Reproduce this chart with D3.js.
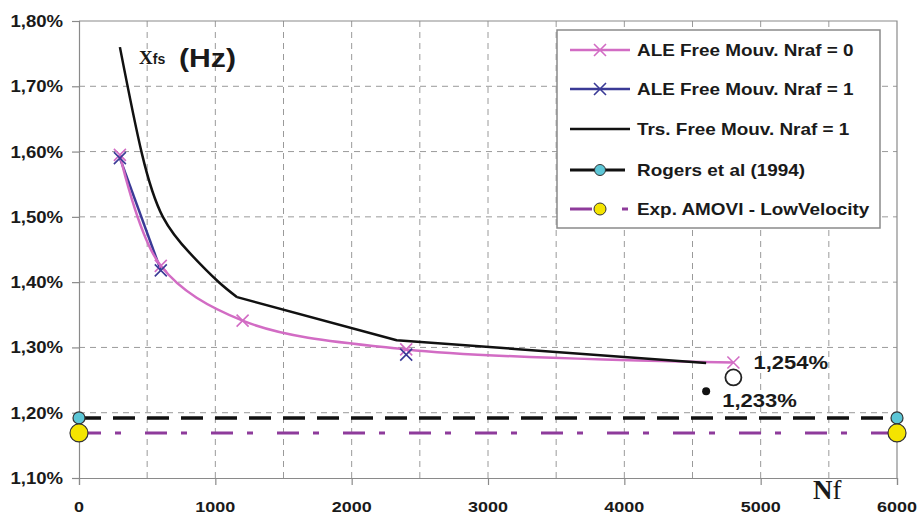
<!DOCTYPE html>
<html>
<head>
<meta charset="utf-8">
<script src="https://cdn.jsdelivr.net/npm/d3@7"></script>
<style>
  body { margin: 0; background: #fff; }
  text { font-family: "Liberation Sans", Arial, sans-serif; font-weight: bold; fill: #1a1a1a; }
</style>
</head>
<body>
<div id="chart"></div>
<script>
// values (percent)
const nAle = [300, 600, 1200, 2400, 4800];
const aleNraf0 = [1.595, 1.425, 1.341, 1.297, 1.277];
const aleNraf1 = [1.590, 1.418, null, 1.289, null];
const nTrs = [300, 460, 615, 815, 1020, 1160, 2330, 4600];
const trsNraf1 = [1.760, 1.598, 1.500, 1.444, 1.401, 1.377, 1.311, 1.276];
const rogersValue = 1.192;
const amoviValue = 1.169;
const openPoint = [4800, 1.254];
const dotPoint = [4600, 1.233];
const xTicks = [0, 1000, 2000, 3000, 4000, 5000, 6000];
const xGrid = [500, 1000, 1500, 2000, 2500, 3000, 3500, 4000, 4500, 5000, 5500];
const yTicks = [1.1, 1.2, 1.3, 1.4, 1.5, 1.6, 1.7, 1.8];
const legendLabels = ["ALE Free Mouv. Nraf = 0", "ALE Free Mouv. Nraf = 1",
    "Trs. Free Mouv. Nraf = 1", "Rogers et al (1994)", "Exp. AMOVI - LowVelocity"];

const width = 920;
const height = 515;
const margin = {top: 21, left: 79, right: 23, bottom: 37};
const stretch = 1.16;

const pink = "#d26cc4";
const navy = "#3a3a96";
const purple = "#8e3b9b";
const cyan = "#5cc6d6";
const yellow = "#f4e400";

const svg = d3.select("#chart")
    .append("svg")
    .attr("width", width)
    .attr("height", height);

const x = d3.scaleLinear()
    .domain([0, 6000])
    .range([margin.left, width - margin.right]);

const y = d3.scaleLinear()
    .domain([1.1, 1.8])
    .range([height - margin.bottom, margin.top]);

// text slightly widened like the original bitmap
function label(str, px, py, size, anchor) {
    return svg.append("text")
        .attr("transform", `translate(${px},${py}) scale(${stretch},1)`)
        .style("font-size", size + "px")
        .style("text-anchor", anchor || "start")
        .text(str);
}

// grid
svg.selectAll("line.vgrid")
    .data(xGrid)
    .enter()
    .append("line")
        .attr("class", "vgrid")
        .attr("x1", d => x(d)).attr("x2", d => x(d))
        .attr("y1", y(1.8)).attr("y2", y(1.1))
        .attr("stroke", "#9a9a9a")
        .attr("stroke-dasharray", "6,5");

svg.selectAll("line.hgrid")
    .data(yTicks.slice(1, -1))
    .enter()
    .append("line")
        .attr("class", "hgrid")
        .attr("x1", x(0)).attr("x2", x(6000))
        .attr("y1", d => y(d)).attr("y2", d => y(d))
        .attr("stroke", "#9a9a9a")
        .attr("stroke-dasharray", "6,5");

// plot frame top/right
svg.append("path")
    .attr("d", `M${x(0)},${y(1.8)}H${x(6000)}V${y(1.1)}`)
    .attr("fill", "none")
    .attr("stroke", "#8a8a8a")
    .attr("stroke-width", 1.2);

// axes
const xAxis = svg.append("g")
    .attr("transform", `translate(0,${y(1.1)})`)
    .call(d3.axisBottom(x).tickValues(xTicks).tickSize(7).tickFormat(""));
const yAxis = svg.append("g")
    .attr("transform", `translate(${x(0)},0)`)
    .call(d3.axisLeft(y).tickValues(yTicks).tickSize(7).tickFormat(""));
[xAxis, yAxis].forEach(function(g) {
    g.selectAll("path, line").attr("stroke", "#8a8a8a").attr("stroke-width", 1.2);
});

xTicks.forEach(function(d) {
    label(d, x(d), 512, 15.5, "middle");
});
yTicks.forEach(function(d) {
    label(d.toFixed(2).replace(".", ",") + "%", x(0) - 16, y(d) + 6, 16, "end");
});

// reference lines
svg.append("line")
    .attr("x1", x(0)).attr("x2", x(6000))
    .attr("y1", y(rogersValue)).attr("y2", y(rogersValue))
    .attr("stroke", "#111")
    .attr("stroke-width", 3.5)
    .attr("stroke-dasharray", "22,12");

svg.append("line")
    .attr("x1", x(0)).attr("x2", x(6000))
    .attr("y1", y(amoviValue)).attr("y2", y(amoviValue))
    .attr("stroke", purple)
    .attr("stroke-width", 3)
    .attr("stroke-dasharray", "22,14,6,24");

// series
const smooth = d3.line()
    .defined(d => d[1] !== null)
    .x(d => x(d[0]))
    .y(d => y(d[1]))
    .curve(d3.curveCatmullRom);

const natural = d3.line()
    .x(d => x(d[0]))
    .y(d => y(d[1]))
    .curve(d3.curveNatural);

const straight = d3.line()
    .x(d => x(d[0]))
    .y(d => y(d[1]));

const ale0 = nAle.map((n, i) => [n, aleNraf0[i]]);
const ale1 = nAle.map((n, i) => [n, aleNraf1[i]]);
const trs = nTrs.map((n, i) => [n, trsNraf1[i]]);

svg.append("path")
    .datum(ale1)
    .attr("d", smooth)
    .attr("fill", "none")
    .attr("stroke", navy)
    .attr("stroke-width", 2.5);

svg.append("path")
    .datum(ale0)
    .attr("d", smooth)
    .attr("fill", "none")
    .attr("stroke", pink)
    .attr("stroke-width", 2.5);

// transient curve: smooth drop up to the bend near 1200, then nearly straight
svg.append("path")
    .datum(trs.slice(0, 6))
    .attr("d", natural)
    .attr("fill", "none")
    .attr("stroke", "#111")
    .attr("stroke-width", 2.5);
svg.append("path")
    .datum(trs.slice(5))
    .attr("d", straight)
    .attr("fill", "none")
    .attr("stroke", "#111")
    .attr("stroke-width", 2.5)
    .attr("stroke-linejoin", "round");

function cross(g, cx, cy, color, s) {
    g.append("path")
        .attr("d", `M${cx - s},${cy - s}L${cx + s},${cy + s}M${cx - s},${cy + s}L${cx + s},${cy - s}`)
        .attr("stroke", color)
        .attr("stroke-width", 1.6);
}

ale0.forEach(d => cross(svg, x(d[0]), y(d[1]), pink, 6));
ale1.filter(d => d[1] !== null).forEach(d => cross(svg, x(d[0]), y(d[1]), navy, 6));

// end markers of reference lines
[x(0), x(6000)].forEach(function(cx) {
    svg.append("circle")
        .attr("cx", cx).attr("cy", y(rogersValue)).attr("r", 6)
        .attr("fill", cyan).attr("stroke", "#333").attr("stroke-width", 1.2);
    svg.append("circle")
        .attr("cx", cx).attr("cy", y(amoviValue)).attr("r", 9)
        .attr("fill", yellow).attr("stroke", "#333").attr("stroke-width", 1.2);
});

// extra points
svg.append("circle")
    .attr("cx", x(openPoint[0])).attr("cy", y(openPoint[1])).attr("r", 8)
    .attr("fill", "#fff").attr("stroke", "#222").attr("stroke-width", 1.8);
svg.append("circle")
    .attr("cx", x(dotPoint[0])).attr("cy", y(dotPoint[1])).attr("r", 4)
    .attr("fill", "#111");

label(openPoint[1].toFixed(3).replace(".", ",") + "%", x(openPoint[0]) + 20, y(openPoint[1]) - 8, 19);
label(dotPoint[1].toFixed(3).replace(".", ",") + "%", x(dotPoint[0]) + 16, y(dotPoint[1]) + 16, 19);

// titles
const tx = svg.append("text")
    .attr("x", 139).attr("y", 64);
tx.append("tspan")
    .style("font-family", "'Liberation Serif', serif")
    .style("font-size", "19px")
    .text("X");
tx.append("tspan")
    .style("font-size", "14px")
    .text("fs");
label("(Hz)", 179, 67, 26);

const nf = svg.append("text")
    .attr("x", 813).attr("y", 499)
    .style("font-family", "'Liberation Serif', serif")
    .style("font-size", "27px");
nf.append("tspan").text("N");
nf.append("tspan").style("font-weight", "normal").text("f");

// legend
const legend = svg.append("g");
legend.append("rect")
    .attr("x", 557).attr("y", 30)
    .attr("width", 323).attr("height", 198)
    .attr("fill", "#fff")
    .attr("stroke", "#8a8a8a")
    .attr("stroke-width", 1.5);

const rowY = [50, 89, 129, 170, 209];
legendLabels.forEach(function(name, i) {
    const ry = rowY[i];
    if (i < 3) {
        const color = [pink, navy, "#111"][i];
        legend.append("line")
            .attr("x1", 570).attr("x2", 630).attr("y1", ry).attr("y2", ry)
            .attr("stroke", color).attr("stroke-width", 2.5);
        if (i < 2) cross(legend, 600, ry, color, 6);
    } else if (i === 3) {
        legend.append("line")
            .attr("x1", 570).attr("x2", 625).attr("y1", ry).attr("y2", ry)
            .attr("stroke", "#111").attr("stroke-width", 3);
        legend.append("circle")
            .attr("cx", 600).attr("cy", ry).attr("r", 5.5)
            .attr("fill", cyan).attr("stroke", "#333");
    } else {
        legend.append("line")
            .attr("x1", 570).attr("x2", 592).attr("y1", ry).attr("y2", ry)
            .attr("stroke", purple).attr("stroke-width", 3);
        legend.append("line")
            .attr("x1", 622).attr("x2", 628).attr("y1", ry).attr("y2", ry)
            .attr("stroke", purple).attr("stroke-width", 3);
        legend.append("circle")
            .attr("cx", 600).attr("cy", ry).attr("r", 6)
            .attr("fill", yellow).attr("stroke", "#333");
    }
    label(name, 637, ry + 6, 16.3);
});
</script>
</body>
</html>
